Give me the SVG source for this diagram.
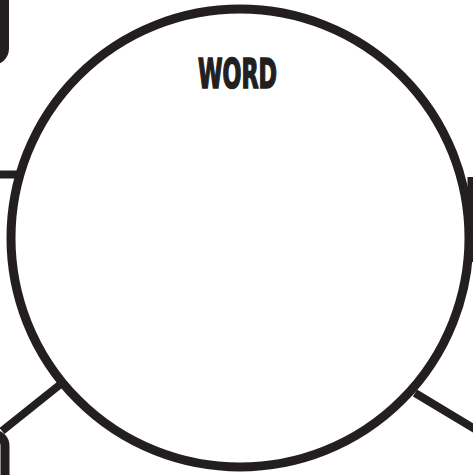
<svg xmlns="http://www.w3.org/2000/svg" width="473" height="475" viewBox="0 0 473 475">
<style>
.ln{fill:none;stroke:#231f20;stroke-width:8;stroke-linecap:butt}
.bx{fill:none;stroke:#231f20;stroke-width:9}
.lbl{font-family:"Liberation Sans Narrow","DejaVu Sans Condensed","Liberation Sans",sans-serif;font-weight:bold;font-size:40px;fill:#231f20;stroke:#231f20;stroke-width:1.6;stroke-linejoin:miter}
</style>
<rect width="473" height="475" fill="#ffffff"/>
<g id="connectors">
<line class="ln" x1="0" y1="174.5" x2="20" y2="174.5" stroke-width="7"/>
<line class="ln" x1="2" y1="431" x2="62" y2="383"/>
<line class="ln" x1="415" y1="393" x2="475" y2="429"/>
<line class="ln" x1="471.5" y1="177" x2="471.5" y2="262" stroke-width="4"/>
</g>
<g id="box-top-left">
<rect class="bx" x="-100" y="-100" width="104.5" height="160.5" rx="12"/>
</g>
<g id="box-bottom-left">
<rect class="bx" x="-100" y="434" width="105" height="120" rx="12"/>
</g>
<g id="word">
<circle cx="240" cy="238" r="229" fill="#ffffff" stroke="#231f20" stroke-width="9"/>
<text class="lbl" x="198" y="87.5" textLength="79" lengthAdjust="spacingAndGlyphs">WORD</text>
</g>
</svg>
